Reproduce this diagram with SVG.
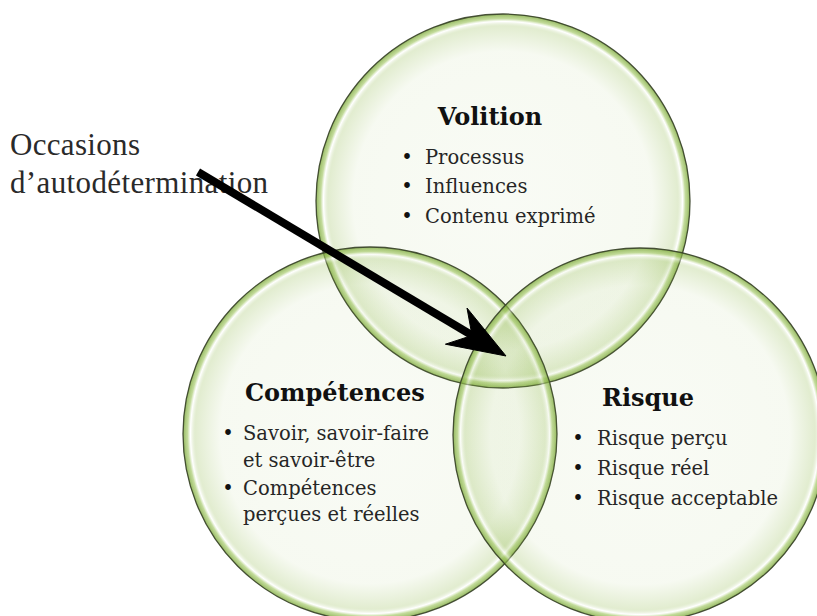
<svg xmlns="http://www.w3.org/2000/svg" width="817" height="616" viewBox="0 0 817 616">
  <defs>
    <radialGradient id="ringFill" cx="50%" cy="50%" r="50%">
      <stop offset="0" stop-color="#8fb84a" stop-opacity="0.055"/>
      <stop offset="0.80" stop-color="#8fb84a" stop-opacity="0.075"/>
      <stop offset="0.935" stop-color="#8fb84a" stop-opacity="0.26"/>
      <stop offset="0.96" stop-color="#ffffff" stop-opacity="0.45"/>
      <stop offset="0.975" stop-color="#9cc45a" stop-opacity="0.6"/>
      <stop offset="1" stop-color="#7aa63a" stop-opacity="0.8"/>
    </radialGradient>
    <filter id="soft" x="-5%" y="-5%" width="110%" height="110%">
      <feGaussianBlur stdDeviation="0.6"/>
    </filter>
  </defs>
  <style>
    .circ { fill: url(#ringFill); stroke: #353f26; stroke-width: 1.3; stroke-opacity: 0.9; }
    .title { font-family: "DejaVu Serif", "Liberation Serif", serif; font-weight: bold; font-size: 24px; fill: #111; }
    .item { font-family: "DejaVu Serif", "Liberation Serif", serif; font-weight: normal; font-size: 19.5px; fill: #262626; }
    .bul { font-family: "DejaVu Serif", "Liberation Serif", serif; font-size: 19.5px; fill: #111; text-anchor: middle; }
    .label { font-family: "Liberation Serif", "Times New Roman", serif; font-size: 31px; fill: #2a2a2a; }
  </style>

  <g id="shapes">
    <circle id="circle-volition" class="circ" cx="503" cy="201" r="187"/>
    <circle id="circle-competences" class="circ" cx="370" cy="434" r="187"/>
    <circle id="circle-risque" class="circ" cx="640" cy="435" r="187"/>
  </g>

  <g id="volition">
    <text class="title" x="490" y="125" text-anchor="middle">Volition</text>
    <text class="bul" x="407" y="164">•</text>
    <text class="item" x="425" y="164">Processus</text>
    <text class="bul" x="407" y="193">•</text>
    <text class="item" x="425" y="193">Influences</text>
    <text class="bul" x="407" y="223">•</text>
    <text class="item" x="425" y="223">Contenu exprimé</text>
  </g>

  <g id="competences">
    <text class="title" x="245" y="401">Compétences</text>
    <text class="bul" x="228" y="440">•</text>
    <text class="item" x="243" y="440">Savoir, savoir-faire</text>
    <text class="item" x="243" y="467">et savoir-être</text>
    <text class="bul" x="228" y="495">•</text>
    <text class="item" x="243" y="495">Compétences</text>
    <text class="item" x="243" y="521">perçues et réelles</text>
  </g>

  <g id="risque">
    <text class="title" x="602" y="406">Risque</text>
    <text class="bul" x="578" y="445">•</text>
    <text class="item" x="597" y="445">Risque perçu</text>
    <text class="bul" x="578" y="475">•</text>
    <text class="item" x="597" y="475">Risque réel</text>
    <text class="bul" x="578" y="505">•</text>
    <text class="item" x="597" y="505">Risque acceptable</text>
  </g>

  <g id="occasions">
    <text class="label" x="10" y="155" textLength="130">Occasions</text>
    <text class="label" x="10" y="193" textLength="258">d’autodétermination</text>
  </g>

  <g id="connectors" filter="url(#soft)">
    <line x1="198" y1="172" x2="474" y2="336.5" stroke="#000" stroke-width="8"/>
    <path d="M506,356 L467,308 L472,335.5 L445.4,344.2 Z" fill="#000" stroke="#000" stroke-width="1" stroke-linejoin="miter"/>
  </g>
</svg>
